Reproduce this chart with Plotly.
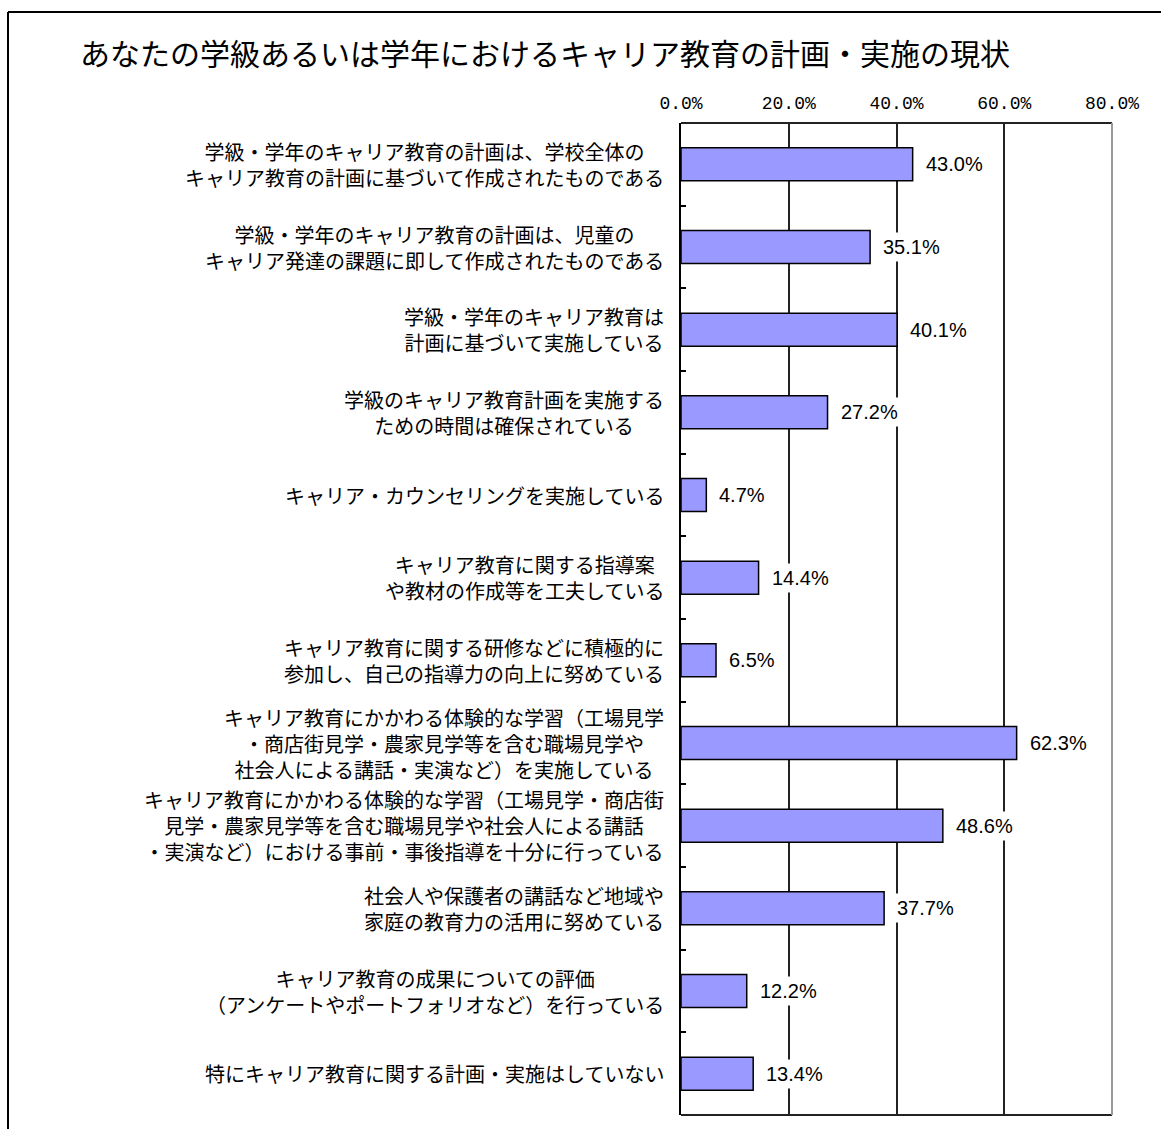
import plotly.graph_objects as go

title_text = "あなたの学級あるいは学年におけるキャリア教育の計画・実施の現状"

categories = [
    "学級・学年のキャリア教育の計画は、学校全体の<br>キャリア教育の計画に基づいて作成されたものである",
    "学級・学年のキャリア教育の計画は、児童の<br>キャリア発達の課題に即して作成されたものである",
    "学級・学年のキャリア教育は<br>計画に基づいて実施している",
    "学級のキャリア教育計画を実施する<br>ための時間は確保されている",
    "キャリア・カウンセリングを実施している",
    "キャリア教育に関する指導案<br>や教材の作成等を工夫している",
    "キャリア教育に関する研修などに積極的に<br>参加し、自己の指導力の向上に努めている",
    "キャリア教育にかかわる体験的な学習（工場見学<br>・商店街見学・農家見学等を含む職場見学や<br>社会人による講話・実演など）を実施している",
    "キャリア教育にかかわる体験的な学習（工場見学・商店街<br>見学・農家見学等を含む職場見学や社会人による講話<br>・実演など）における事前・事後指導を十分に行っている",
    "社会人や保護者の講話など地域や<br>家庭の教育力の活用に努めている",
    "キャリア教育の成果についての評価<br>（アンケートやポートフォリオなど）を行っている",
    "特にキャリア教育に関する計画・実施はしていない",
]

values = [43.0, 35.1, 40.1, 27.2, 4.7, 14.4, 6.5, 62.3, 48.6, 37.7, 12.2, 13.4]

x_ticks = [0, 20, 40, 60, 80]
x_tick_labels = ["0.0%", "20.0%", "40.0%", "60.0%", "80.0%"]

W, H = 1161, 1129
ML, MR, MT, MB = 681, 49, 123, 14
PW, PH = W - ML - MR, H - MT - MB


def px_x(px):
    return (px - ML) / PW


def px_y(py):
    return (H - MB - py) / PH


JP = "Noto Sans CJK JP"
ids = list(range(len(categories)))

fig = go.Figure(
    go.Bar(
        x=values,
        y=ids,
        orientation="h",
        width=0.4,
        marker=dict(color="#9999FF", line=dict(color="#000000", width=1.5)),
        hoverinfo="skip",
    )
)

annotations = []
# category labels, centred line by line and right-aligned against the axis
for i, label in enumerate(categories):
    annotations.append(dict(
        x=0, y=i, xref="x", yref="y", xanchor="right", yanchor="middle",
        xshift=-15, text=label, showarrow=False, align="center",
        font=dict(family=JP, size=20, color="#000000"),
    ))
# value labels on a white box so the grid lines break behind them
for i, v in enumerate(values):
    annotations.append(dict(
        x=v, y=i, xref="x", yref="y", xanchor="left", yanchor="middle",
        xshift=9, text=f"{v:.1f}%", showarrow=False,
        bgcolor="#FFFFFF", borderpad=3,
        font=dict(family="Liberation Sans", size=20, color="#000000"),
    ))
annotations.append(dict(
    x=px_x(78), y=px_y(52), xref="paper", yref="paper",
    xanchor="left", yanchor="middle", text=title_text, showarrow=False,
    font=dict(family=JP, size=30, color="#000000"),
))

shapes = [
    # outer frame (left and top edges)
    dict(type="line", xref="paper", yref="paper", x0=px_x(8), x1=px_x(8),
         y0=px_y(12), y1=px_y(1140), line=dict(color="#000000", width=2)),
    dict(type="line", xref="paper", yref="paper", x0=px_x(8), x1=px_x(1170),
         y0=px_y(12), y1=px_y(12), line=dict(color="#000000", width=2)),
    # plot area border
    dict(type="line", xref="paper", yref="paper", x0=0, x1=1, y0=1, y1=1,
         line=dict(color="#222222", width=2)),
    dict(type="line", xref="paper", yref="paper", x0=0, x1=1, y0=0, y1=0,
         line=dict(color="#222222", width=2)),
    dict(type="line", xref="paper", yref="paper", x0=1, x1=1, y0=0, y1=1,
         line=dict(color="#999999", width=2)),
]

fig.update_layout(
    width=W, height=H,
    margin=dict(l=ML, r=MR, t=MT, b=MB),
    paper_bgcolor="#FFFFFF", plot_bgcolor="#FFFFFF",
    showlegend=False,
    bargap=0.6,
    annotations=annotations,
    shapes=shapes,
    xaxis=dict(
        side="top", range=[0, 80], tickvals=x_ticks, ticktext=x_tick_labels,
        showgrid=True, gridcolor="#222222", gridwidth=2,
        zeroline=False, showline=False, ticks="",
        ticklabelstandoff=9,
        tickfont=dict(family="Liberation Mono", size=18, color="#000000"),
        fixedrange=True,
    ),
    yaxis=dict(
        type="category", autorange="reversed", showticklabels=False,
        tickmode="array", tickvals=ids, tickson="boundaries",
        ticks="inside", ticklen=5, tickcolor="#000000", tickwidth=1.5,
        showline=True, linecolor="#000000", linewidth=2,
        showgrid=False, zeroline=False, fixedrange=True,
    ),
)

fig.write_html("out.html")
